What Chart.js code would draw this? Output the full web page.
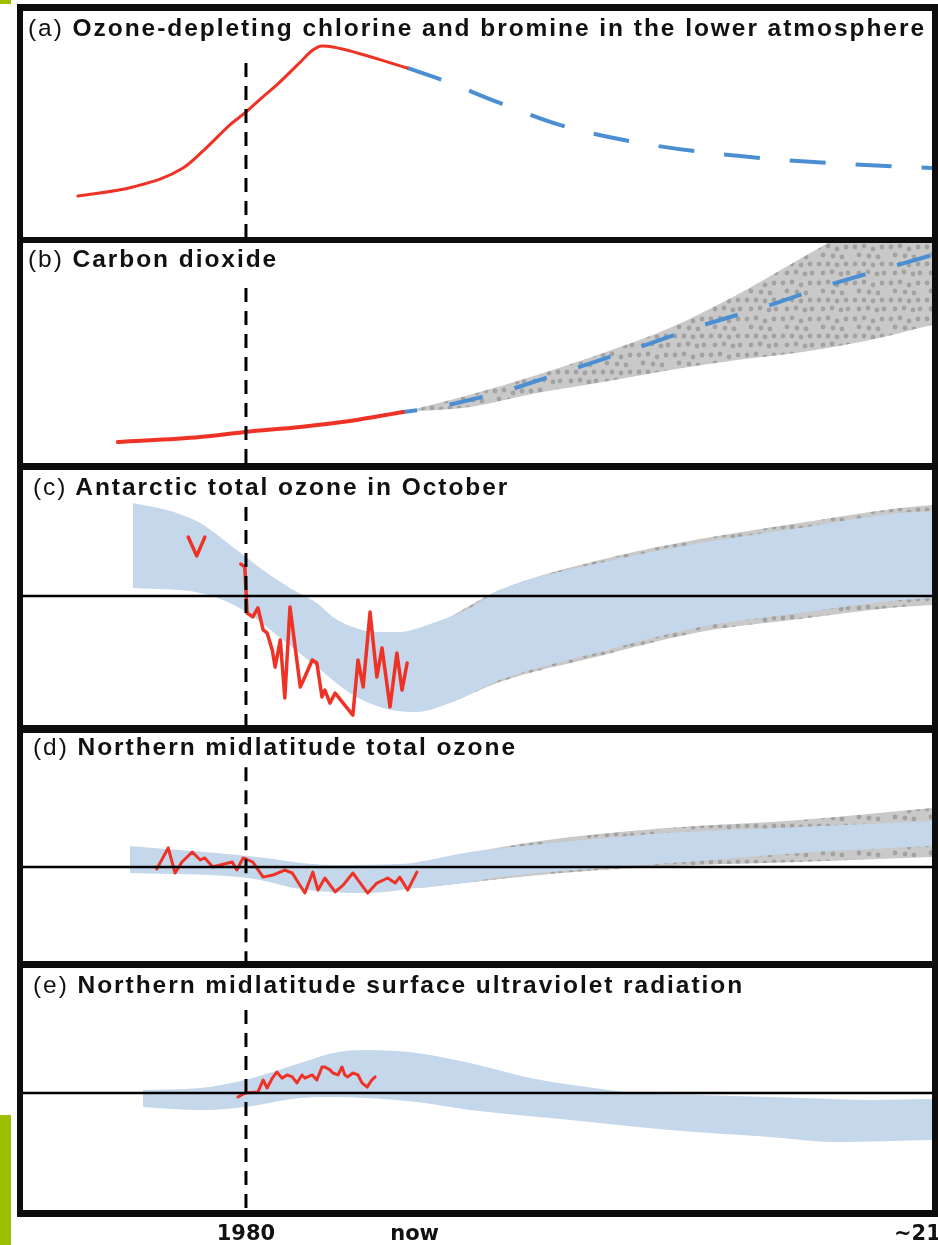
<!DOCTYPE html>
<html>
<head>
<meta charset="utf-8">
<script src="https://cdn.jsdelivr.net/npm/chart.js@4.4.0/dist/chart.umd.min.js"></script>
<style>
  html, body { margin: 0; padding: 0; background: #fff; width: 938px; height: 1245px; overflow: hidden; position: relative; }
  .frame { position: absolute; left: 17px; top: 4px; width: 921px; height: 1213px; background: #0d0d0d; }
  .panel { position: absolute; left: 23px; width: 909px; background: #fff; }
  canvas { position: absolute; left: 23px; }
  .title { position: absolute; font-family: "Liberation Sans", Arial, sans-serif; font-size: 24.5px; line-height: 24px;
           font-weight: bold; letter-spacing: 1.95px; color: #111; white-space: nowrap; }
  .title span { font-weight: normal; }
  .bar { position: absolute; left: 0; width: 11px; background: #9cc000; }
</style>
</head>
<body>
<div class="bar" style="top:0;height:4px"></div>
<div class="bar" style="top:1115px;height:130px"></div>
<div class="frame"></div>
<div class="panel" style="top:11px;height:226px"></div>
<div class="panel" style="top:243px;height:220px"></div>
<div class="panel" style="top:470px;height:255px"></div>
<div class="panel" style="top:733px;height:228px"></div>
<div class="panel" style="top:968px;height:242px"></div>

<canvas id="chartA" width="909" height="226" style="top:11px"></canvas>
<canvas id="chartB" width="909" height="220" style="top:243px"></canvas>
<canvas id="chartC" width="909" height="255" style="top:470px"></canvas>
<canvas id="chartD" width="909" height="228" style="top:733px"></canvas>
<canvas id="chartE" width="949" height="285" style="top:968px"></canvas>

<div class="title" style="left:28px;top:16.2px"><span>(a)</span> Ozone-depleting chlorine and bromine in the lower atmosphere</div>
<div class="title" style="left:28px;top:246.5px"><span>(b)</span> Carbon dioxide</div>
<div class="title" style="left:33px;top:474.5px"><span>(c)</span> Antarctic total ozone in October</div>
<div class="title" style="left:33px;top:734.5px"><span>(d)</span> Northern midlatitude total ozone</div>
<div class="title" style="left:33px;top:972.8px"><span>(e)</span> Northern midlatitude surface ultraviolet radiation</div>

<script>
// time axis (years) and the labels under the last panel
var yearMin = 1941, yearMax = 2100;
var axisYears = [1980, 2009.5, 2100];
var axisLabels = ['1980', 'now', '~2100'];
var refYear = 1980;

// (a) chlorine + bromine, relative level 0-100
var clYears = [1950.6, 1960.2, 1969, 1973.2, 1977.2, 1979.8, 1983.3, 1985.4, 1989.5, 1991.7, 1993.3, 1995.2, 2008.2];
var clObserved = [18.1, 22.1, 30.5, 39.8, 49.6, 54.9, 62.8, 67.3, 77.4, 82.7, 84.5, 84.1, 74.8];
var clProjYears = [2008.2, 2013.9, 2024.4, 2034.9, 2048.9, 2066.4, 2082.2, 2100];
var clProjected = [74.8, 69.9, 59.3, 49.6, 41.6, 35.8, 32.7, 30.5];

// (b) carbon dioxide
var co2Years = [1957.6, 1972, 1979.8, 1989.5, 1998.2, 2007.5];
var co2Observed = [9.5, 11.8, 14.1, 16.4, 19.1, 23.2];
var co2ProjYears = [2007.5, 2013.2, 2025, 2036.7, 2048.4, 2060, 2071.7, 2083, 2100];
var co2Projected = [23.2, 25, 32.3, 42.3, 52.3, 62.7, 71.8, 81.8, 94.5];
var co2RangeYears = [2007.5, 2019.2, 2030.9, 2042.5, 2054.2, 2065.9, 2077.4, 2089.2, 2100];
var co2RangeHigh = [23.2, 31, 40, 50, 61.5, 76.5, 93.5, 111, 127];
var co2RangeLow = [23.2, 25.5, 31.8, 36.8, 42.3, 46.8, 50.5, 55.9, 62.7];

// (c) Antarctic October ozone
var antRef = 50.6;
var antEarlyYears = [1969.9, 1971.4, 1972.8];
var antEarly = [73.7, 66.3, 73.7];
var antYears = [1979.1, 1979.8, 1980.2, 1981.2, 1982.1, 1983, 1983.7, 1984.6, 1985.1, 1986, 1986.8, 1987.7, 1988.6,
                1989.5, 1990.3, 1991.6, 1992.4, 1993.3, 1993.8, 1994.7, 1995.6, 1997, 1998.7, 1999.6, 2000.5, 2001.7,
                2002.9, 2003.8, 2005.2, 2006.4, 2007.3, 2008.2];
var antObserved = [63.1, 62, 43.9, 42.4, 45.9, 37.3, 36.1, 29.4, 22.7, 33.3, 10.6, 46.3, 30.6,
                   14.9, 18.8, 25.5, 24.3, 11, 13.7, 8.6, 12.5, 8.6, 3.9, 25.5, 14.9, 44.3,
                   18.8, 30.2, 7.1, 28.2, 13.7, 24.3];
var antHighYears = [1960.2, 1966.2, 1972, 1977.7, 1983.7, 1987.7, 1992.4, 1995.2, 1998.7, 2002.2, 2006.9, 2012.7, 2019.2, 2024.4, 2041.9, 2059.4, 2076.9, 2094.4, 2100];
var antHigh = [87.1, 84.3, 79.2, 69.8, 59.6, 53.7, 47.8, 42.4, 38.4, 36.5, 36.5, 40, 45.9, 52.9, 63.5, 71.4, 77.3, 83.1, 83.9];
var antLowYears = [1960.2, 1972, 1979.5, 1986.5, 1992.4, 1998.2, 2004, 2009.9, 2015.7, 2024.4, 2041.9, 2059.4, 2076.9, 2094.4, 2100];
var antLow = [53.7, 51.8, 45.1, 33.3, 22.7, 12.5, 6.7, 5.1, 8.6, 17.6, 28.6, 38.4, 43.9, 49, 49.8];
var antSpreadYears = [2015.7, 2024.4, 2041.9, 2059.4, 2076.9, 2094.4, 2100];
var antSpreadHigh = [42.4, 52.9, 64.7, 72.9, 79.2, 85.1, 86.3];
var antSpreadLow = [8.6, 16.9, 27.1, 36.5, 41.6, 46.3, 47.1];

// (d) northern midlatitude total ozone
var nmRef = 41.2;
var nmYears = [1964.4, 1966.4, 1967.6, 1968.8, 1970.6, 1972, 1972.8, 1974.2, 1975.5, 1976.9, 1977.6, 1978.4, 1979.5,
               1980.4, 1981.2, 1983, 1984.7, 1986.8, 1988.1, 1990.3, 1991.7, 1992.6, 1993.8, 1995.6, 1997, 1998.7,
               2000, 2001.3, 2002.9, 2004.8, 2006.1, 2006.9, 2008.3, 2009.9];
var nmObserved = [40.4, 49.6, 38.6, 43.4, 47.8, 44.3, 45.2, 41.2, 42.1, 43, 43.4, 39.9, 45.2,
                  44.3, 43.4, 36.8, 37.7, 39.9, 38.6, 29.8, 39, 31.1, 36.4, 30.3, 33.3, 38.6,
                  34.2, 29.8, 34.2, 36.4, 34.2, 36.8, 31.1, 39];
var nmHighYears = [1959.7, 1980.4, 1995.2, 2006.9, 2019.2, 2030.2, 2053.6, 2076.9, 2100];
var nmHigh = [50.4, 46.1, 42.1, 42.5, 47.8, 50.9, 56.1, 58.8, 61.4];
var nmLowYears = [1959.7, 1980.4, 1989.5, 2001.2, 2009.9, 2019.2, 2024.4, 2041.9, 2059.4, 2076.9, 2100];
var nmLow = [38.6, 36.4, 31.6, 29.8, 32, 34.6, 36.8, 40.8, 43.9, 47.4, 50.4];
var nmSpreadHighYears = [2010.4, 2030.2, 2053.6, 2076.9, 2100];
var nmSpreadHigh = [43.4, 52.2, 58.3, 61.8, 67.1];
var nmSpreadLowYears = [2010.4, 2024.4, 2041.9, 2059.4, 2076.9, 2100];
var nmSpreadLow = [32, 36, 39.9, 42.1, 43.4, 45.6];

// (e) northern midlatitude surface UV
var uvRef = 48.3;
var uvYears = [1978.6, 1979.8, 1982.1, 1983, 1983.7, 1984.6, 1985.4, 1986.3, 1987.2, 1988.1, 1988.9, 1989.8, 1990.3,
               1991.6, 1992.4, 1993.3, 1993.8, 1994.7, 1995.2, 1996.1, 1996.8, 1997.3, 1997.8, 1998.7, 1999.6,
               2000.3, 2001.2, 2002, 2002.6];
var uvObserved = [46.7, 48.3, 48.8, 53.7, 50.4, 54.5, 57, 54.5, 55.8, 55, 52.5, 55.8, 54.5,
                  55.8, 53.7, 59.1, 59.1, 57.9, 56.6, 55.8, 59.1, 55.8, 55, 56.6, 55.8,
                  52.5, 50.8, 53.7, 55];
var uvHighYears = [1962, 1972, 1979.8, 1989.5, 1995.2, 2001.2, 2009.9, 2019.2, 2029.7, 2038.4, 2048.4, 2059.4, 2077.4, 2089.2, 2100];
var uvHigh = [49.6, 50.4, 53.7, 60.7, 64.9, 66.1, 64.9, 60.7, 54.5, 51.2, 48.3, 47.5, 46.3, 45.5, 45.9];
var uvLowYears = [1962, 1972, 1979.8, 1989.5, 1995.2, 2001.2, 2009.9, 2019.2, 2036.7, 2054.2, 2071.7, 2083.4, 2100];
var uvLow = [42.6, 41.3, 42.6, 46.3, 46.7, 46.3, 44.6, 41.3, 37.2, 33.1, 30.2, 28.1, 28.9];

// top of the dashed 1980 marker in each panel (below the title)
var markerTops = [77, 79.5, 85.5, 85, 82.6];

var RED = '#ee3326', BLUE = '#4b8ed2', BAND = '#c5d7eb';

function pts(xs, ys) {
  return xs.map(function (x, i) { return { x: x, y: ys[i] }; });
}

function stipple() {
  var c = document.createElement('canvas');
  c.width = 36; c.height = 36;
  var g = c.getContext('2d');
  g.fillStyle = '#c9c9c9';
  g.fillRect(0, 0, 36, 36);
  g.fillStyle = '#a2a2a2';
  [[4, 4], [13, 3], [22, 6], [31, 4], [8, 12], [18, 13], [27, 14], [4, 21], [13, 21], [22, 22], [31, 21],
   [8, 30], [17, 29], [26, 31], [33, 30]].forEach(function (p) {
    g.beginPath(); g.arc(p[0], p[1], 2.4, 0, Math.PI * 2); g.fill();
  });
  return g.createPattern(c, 'repeat');
}
var dots = stipple();

function line(data, color, width, extra) {
  var ds = { data: data, borderColor: color, borderWidth: width, pointRadius: 0, fill: false, tension: 0 };
  return Object.assign(ds, extra || {});
}
// observed records: rounded joins like the hand-drawn original
function obs(data, width, extra) {
  return line(data, RED, width, Object.assign({ borderJoinStyle: 'round', borderCapStyle: 'round' }, extra || {}));
}
function marker(top) {
  return line([{ x: refYear, y: top }, { x: refYear, y: -3 }], '#000', 3, { borderDash: [14, 9], borderCapStyle: 'butt' });
}
function refLine(v) {
  return line([{ x: yearMin, y: v }, { x: yearMax, y: v }], '#000', 2.5);
}
function band(highData, lowData, fillColor) {
  return [
    line(highData, 'rgba(0,0,0,0)', 0, { fill: '+1', backgroundColor: fillColor, cubicInterpolationMode: 'monotone' }),
    line(lowData, 'rgba(0,0,0,0)', 0, { cubicInterpolationMode: 'monotone' })
  ];
}

function makeChart(id, datasets, withAxis) {
  var x = { type: 'linear', min: yearMin, max: yearMax, display: false };
  if (withAxis) {
    x = {
      type: 'linear', min: yearMin, max: yearMax, display: true,
      grid: { display: false, drawTicks: false },
      border: { display: false },
      afterBuildTicks: function (s) { s.ticks = axisYears.map(function (v) { return { value: v }; }); },
      // keep the plot area on the panel: the last label may run off the page as in the original
      afterFit: function (s) { s.height = 37.2; s.paddingLeft = 0; s.paddingRight = 0; s.paddingTop = 0; s.paddingBottom = 0; },
      ticks: {
        autoSkip: false, maxRotation: 0, padding: 12, color: '#111',
        font: { family: '"DejaVu Sans", sans-serif', size: 21, weight: 'bold', lineHeight: 1.2 },
        callback: function (v, i) { return axisLabels[i]; }
      }
    };
  }
  return new Chart(document.getElementById(id), {
    type: 'line',
    data: { datasets: datasets },
    options: {
      responsive: false,
      animation: false,
      layout: { padding: withAxis ? { right: 40, bottom: 5.8 } : 0 },
      plugins: { legend: { display: false }, tooltip: { enabled: false } },
      scales: { x: x, y: { type: 'linear', min: 0, max: 100, display: false } }
    }
  });
}

makeChart('chartA', [
  marker(markerTops[0]),
  obs(pts(clYears, clObserved), 3, { cubicInterpolationMode: 'monotone' }),
  line(pts(clProjYears, clProjected), BLUE, 4, { borderDash: [36, 30], cubicInterpolationMode: 'monotone' })
]);

makeChart('chartB', [
  marker(markerTops[1]),
  obs(pts(co2Years, co2Observed), 4, { cubicInterpolationMode: 'monotone' }),
  line(pts(co2ProjYears, co2Projected), BLUE, 4, { borderDash: [34, 33], borderDashOffset: 20 })
].concat(band(pts(co2RangeYears, co2RangeHigh), pts(co2RangeYears, co2RangeLow), dots)));

makeChart('chartC', [
  refLine(antRef),
  marker(markerTops[2]),
  obs(pts(antEarlyYears, antEarly), 3.5),
  obs(pts(antYears, antObserved), 3.5)
].concat(band(pts(antHighYears, antHigh), pts(antLowYears, antLow), BAND))
 .concat(band(pts(antSpreadYears, antSpreadHigh), pts(antSpreadYears, antSpreadLow), dots)));

makeChart('chartD', [
  refLine(nmRef),
  marker(markerTops[3]),
  obs(pts(nmYears, nmObserved), 3)
].concat(band(pts(nmHighYears, nmHigh), pts(nmLowYears, nmLow), BAND))
 .concat(band(pts(nmSpreadHighYears, nmSpreadHigh), pts(nmSpreadLowYears, nmSpreadLow), dots)));

makeChart('chartE', [
  refLine(uvRef),
  marker(markerTops[4]),
  obs(pts(uvYears, uvObserved), 3)
].concat(band(pts(uvHighYears, uvHigh), pts(uvLowYears, uvLow), BAND)), true);
</script>
</body>
</html>
